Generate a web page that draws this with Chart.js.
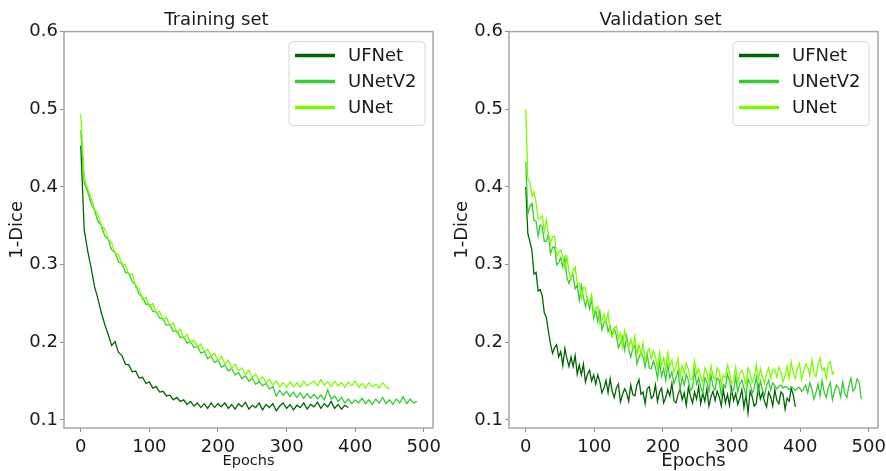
<!DOCTYPE html>
<html>
<head>
<meta charset="utf-8">
<script src="https://cdn.jsdelivr.net/npm/chart.js@4.4.1/dist/chart.umd.min.js"></script>
<style>
  html, body { margin: 0; padding: 0; background: #fff; }
  #wrap { position: relative; width: 886px; height: 471px; }
  .panel { position: absolute; top: 0; width: 443px; height: 471px; }
</style>
</head>
<body>
<div id="wrap">
  <div class="panel" style="left:0"><canvas id="trainChart" width="443" height="471"></canvas></div>
  <div class="panel" style="left:443px"><canvas id="valChart" width="443" height="471"></canvas></div>
</div>
<script>
// nilai (1-Dice per epoch)
const seriesNames = ['UFNet', 'UNetV2', 'UNet'];
const seriesColors = ['#006400', '#32cd32', '#7cfc00'];
const yTicks = [0.1, 0.2, 0.3, 0.4, 0.5, 0.6];
const xTicks = [0, 100, 200, 300, 400, 500];

// training: satu nilai tiap 5 epoch
const trainStep = 5;
const trainUFNet = [
  .453, .345, .318, .296, .272, .256, .238, .223, .210, .196, .201, .187, .183, .172, .171, .162,
  .163, .154, .155, .147, .149, .141, .143, .136, .137, .131, .132, .126, .129, .124, .126, .120,
  .124, .118, .122, .116, .121, .115, .122, .116, .121,
  .117, .122, .115, .120, .114, .121, .117, .123, .114, .119, .116, .122, .113, .120, .116, .121,
  .112, .118, .122, .115, .120, .113, .119, .116, .122, .114, .120, .117, .123, .115, .121, .117,
  .124, .115, .120, .114, .119, .116
];
const trainUNetV2 = [
  .473, .405, .394, .379, .370, .356, .350, .337, .333, .319, .316, .303, .302, .290, .289, .278,
  .274, .262, .258, .249, .249, .240, .239, .231, .230, .222, .223, .214, .215, .206, .207, .199,
  .201, .193, .195, .186, .188, .179, .182, .174, .177, .168, .171, .163, .166, .158, .161, .153,
  .157, .150, .154, .146, .150, .144, .147, .140, .143, .131, .138, .132, .137, .130, .136, .129,
  .135, .128, .134, .128, .133, .127, .132, .126, .139, .127, .131, .124, .129, .122, .127, .121,
  .126, .122, .128, .121, .126, .120, .127, .122, .129, .121, .126, .120, .127, .122, .130, .121,
  .127, .122, .124
];
const trainUNet = [
  .494, .412, .398, .386, .371, .365, .350, .346, .333, .328, .315, .313, .300, .300, .287, .288,
  .271, .270, .254, .258, .246, .250, .237, .240, .228, .232, .221, .225, .212, .217, .205, .210,
  .199, .203, .193, .198, .187, .191, .182, .186, .176, .182, .172, .177, .167, .172, .163, .167,
  .158, .164, .155, .159, .151, .156, .148, .152, .145, .150, .143, .148, .142, .149, .143, .148,
  .142, .150, .144, .147, .150, .144, .152, .145, .149, .143, .150, .144, .148, .142, .149, .144,
  .150, .142, .147, .141, .148, .143, .146, .141, .148, .143, .140
];

// validation: satu nilai tiap 3 epoch
const valStep = 3;
const valUFNet = [
  .400, .340, .330, .318, .288, .290, .266, .268, .260, .238, .232, .214, .198, .186, .193, .197,
  .181, .188, .170, .192, .179, .169, .181, .169, .183, .159, .171, .158, .172, .149, .159, .164,
  .150, .158, .146, .158, .149, .135, .141, .151, .135, .153, .137, .129, .141, .146, .123, .133,
  .140, .135, .124, .145, .133, .131, .145, .152, .133, .136, .121, .140, .143, .128, .131, .145,
  .124, .136, .141, .122, .129, .139, .131, .147, .125, .122, .133, .140, .126, .135, .119, .142,
  .131, .122, .136, .127, .143, .121, .135, .124, .140, .118, .130, .137, .125, .137, .130, .118,
  .139, .122, .133, .119, .141, .125, .134, .120, .128, .139, .116, .132, .109, .137, .130, .118,
  .121, .143, .127, .135, .124, .117, .136, .130, .118, .139, .125, .121, .136, .133, .114, .128,
  .124, .141, .132, .117
];
const valUNetV2 = [
  .432, .365, .375, .379, .357, .356, .337, .351, .349, .330, .330, .339, .314, .322, .323, .300,
  .303, .309, .297, .309, .283, .276, .284, .287, .269, .274, .254, .273, .258, .246, .256, .243,
  .256, .231, .241, .227, .240, .216, .225, .229, .214, .221, .208, .218, .209, .193, .199, .207,
  .190, .208, .191, .181, .192, .196, .172, .181, .187, .181, .168, .185, .167, .166, .176, .168,
  .154, .174, .156, .166, .151, .171, .154, .162, .147, .154, .164, .140, .155, .145, .159, .151,
  .138, .141, .163, .146, .154, .143, .135, .154, .149, .137, .158, .143, .139, .154, .151, .132,
  .146, .142, .159, .150, .135, .139, .155, .136, .147, .151, .142, .131, .153, .147, .134, .141,
  .155, .135, .150, .139, .131, .144, .151, .138, .148, .144, .140, .143, .145, .141, .143, .142,
  .139, .143, .141, .138, .141, .142, .137, .140, .145, .135, .148, .140, .127, .135, .146, .131,
  .151, .136, .129, .142, .148, .126, .137, .145, .141, .130, .149, .134, .129, .144, .154, .137,
  .141, .153, .149, .127
];
const valUNet = [
  .500, .410, .406, .388, .394, .380, .359, .359, .363, .343, .358, .338, .327, .336, .337, .310,
  .316, .319, .310, .295, .310, .290, .281, .292, .297, .276, .276, .257, .271, .270, .251, .251,
  .261, .236, .244, .246, .224, .228, .236, .225, .238, .213, .207, .217, .221, .205, .212, .194,
  .215, .202, .192, .204, .193, .208, .184, .197, .184, .199, .176, .187, .192, .179, .189, .181,
  .167, .187, .170, .180, .165, .186, .169, .177, .162, .169, .179, .155, .170, .160, .173, .165,
  .152, .154, .176, .159, .166, .155, .148, .167, .161, .149, .170, .156, .152, .167, .163, .144,
  .158, .154, .171, .162, .147, .152, .168, .149, .160, .164, .156, .145, .167, .161, .148, .155,
  .171, .151, .166, .155, .147, .160, .167, .154, .164, .165, .155, .168, .162, .149, .157, .169,
  .154, .175, .160, .153, .167, .173, .152, .163, .172, .168, .157, .177, .161, .156, .171, .180,
  .163, .167, .153, .172, .175, .159, .163
];

function toPoints(values, step) {
  return values.map((v, i) => ({ x: i * step, y: v }));
}

// bingkai abu-abu di sekitar area plot
const framePlugin = {
  id: 'frame',
  afterDatasetsDraw(chart) {
    const a = chart.chartArea, ctx = chart.ctx;
    ctx.save();
    ctx.strokeStyle = '#a6a6a6';
    ctx.lineWidth = 1.5;
    ctx.strokeRect(a.left, a.top, a.right - a.left, a.bottom - a.top);
    ctx.restore();
  }
};

// legenda gaya matplotlib (kotak kanan atas)
const boxLegend = {
  id: 'boxLegend',
  afterDraw(chart, args, opts) {
    const a = chart.chartArea, ctx = chart.ctx;
    const w = 136, h = 84;
    const x0 = a.right - opts.right - w, y0 = a.top + opts.top;
    ctx.save();
    ctx.beginPath();
    ctx.roundRect(x0, y0, w, h, 4);
    ctx.fillStyle = 'rgba(255,255,255,0.8)';
    ctx.fill();
    ctx.strokeStyle = '#d6d6d6';
    ctx.lineWidth = 1;
    ctx.stroke();
    chart.data.datasets.forEach((ds, i) => {
      const cy = y0 + 14 + 26 * i;
      ctx.beginPath();
      ctx.moveTo(x0 + 6, cy);
      ctx.lineTo(x0 + 46, cy);
      ctx.strokeStyle = ds.borderColor;
      ctx.lineWidth = 3.5;
      ctx.stroke();
      ctx.fillStyle = '#1a1a1a';
      ctx.font = '18px "DejaVu Sans"';
      ctx.textBaseline = 'middle';
      ctx.fillText(ds.label, x0 + 59, cy + 1);
    });
    ctx.restore();
  }
};

function makeChart(canvasId, cfg) {
  const datasets = cfg.series.map((vals, i) => ({
    label: seriesNames[i],
    data: toPoints(vals, cfg.step),
    borderColor: seriesColors[i],
    borderWidth: 1.3,
    pointRadius: 0,
    tension: 0,
    order: 3 - i
  }));

  return new Chart(document.getElementById(canvasId), {
    type: 'line',
    data: { datasets: datasets },
    plugins: [framePlugin, boxLegend],
    options: {
      responsive: false,
      animation: false,
      layout: { padding: { left: 0, right: cfg.padRight, top: 0, bottom: 0 } },
      plugins: {
        legend: { display: false },
        tooltip: { enabled: false },
        title: {
          display: true,
          text: cfg.title,
          color: '#1a1a1a',
          font: { family: 'DejaVu Sans', size: 18, weight: 'normal', lineHeight: 1.2 },
          padding: { top: 10, bottom: 0 }
        },
        boxLegend: { right: cfg.legendRight, top: 10 }
      },
      scales: {
        x: {
          type: 'linear',
          min: -24.45,
          max: 513.45,
          afterBuildTicks: s => { s.ticks = xTicks.map(v => ({ value: v })); },
          afterFit: s => { s.height = 43; s.paddingLeft = 0; s.paddingRight = 0; },
          grid: { drawOnChartArea: false, drawTicks: true, tickLength: 4, tickColor: '#8c8c8c', tickWidth: 1 },
          border: { display: false },
          ticks: {
            color: '#1a1a1a',
            padding: 5,
            maxRotation: 0,
            autoSkip: false,
            font: { family: 'DejaVu Sans', size: 18 },
            callback: v => String(v)
          },
          title: {
            display: true,
            text: 'Epochs',
            color: '#1a1a1a',
            font: { family: 'DejaVu Sans', size: cfg.xTitleSize },
            padding: { top: 0, bottom: cfg.xTitlePad }
          }
        },
        y: {
          min: 0.0897,
          max: 0.6,
          afterBuildTicks: s => { s.ticks = yTicks.map(v => ({ value: v })); },
          afterFit: s => { s.width = cfg.yWidth; s.paddingTop = 0; s.paddingBottom = 0; },
          grid: { drawOnChartArea: false, drawTicks: true, tickLength: 4, tickColor: '#8c8c8c', tickWidth: 1 },
          border: { display: false },
          ticks: {
            color: '#1a1a1a',
            padding: 2,
            autoSkip: false,
            font: { family: 'DejaVu Sans', size: 18 },
            callback: v => v.toFixed(1)
          },
          title: {
            display: true,
            text: '1-Dice',
            color: '#1a1a1a',
            font: { family: 'DejaVu Sans', size: 18 },
            padding: { top: cfg.yTitlePad, bottom: 0 }
          }
        }
      }
    }
  });
}

document.addEventListener('DOMContentLoaded', function() {
  makeChart('trainChart', {
    title: 'Training set',
    step: trainStep,
    series: [trainUFNet, trainUNetV2, trainUNet],
    padRight: 10,
    yWidth: 64,
    legendRight: 8,
    xTitleSize: 14.5,
    xTitlePad: 1,
    yTitlePad: 7
  });
  makeChart('valChart', {
    title: 'Validation set',
    step: valStep,
    series: [valUFNet, valUNetV2, valUNet],
    padRight: 8,
    yWidth: 66,
    legendRight: 9,
    xTitleSize: 18,
    xTitlePad: -1.5,
    yTitlePad: 8.5
  });
});
</script>
</body>
</html>
